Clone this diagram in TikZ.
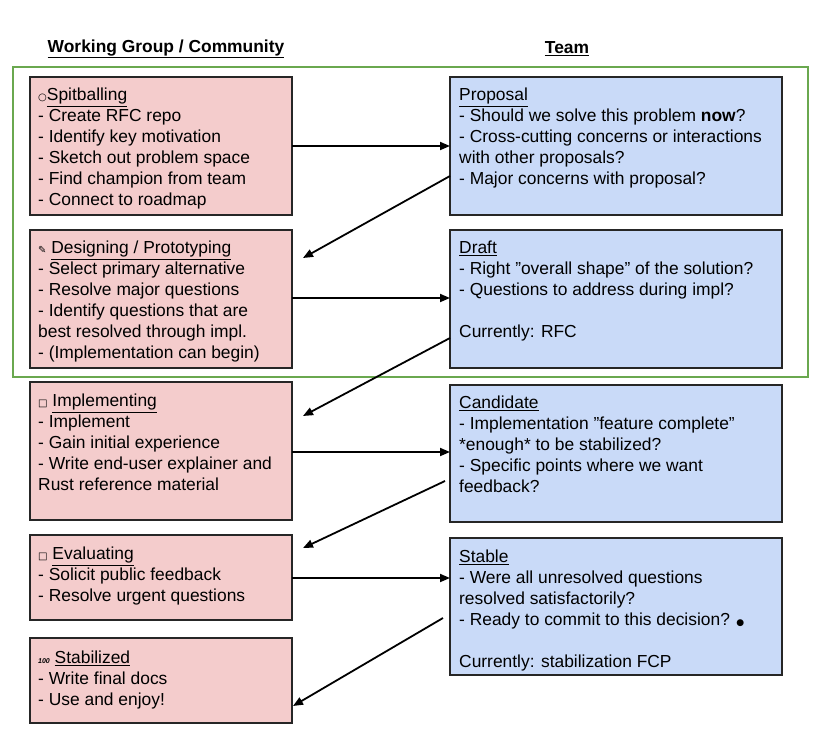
\documentclass[tikz,border=0pt]{standalone}
\usepackage{fontspec}
\setmainfont{Liberation Sans}
\newfontfamily\emj{DejaVu Sans}
\usetikzlibrary{arrows.meta}
\definecolor{pinkf}{HTML}{F4CCCC}
\definecolor{bluef}{HTML}{C9DAF8}
\definecolor{greenb}{HTML}{6AA84F}
\newcommand{\dq}{\symbol{34}}
\begin{document}
\begin{tikzpicture}[x=1pt,y=-1pt,
  box/.style={draw=black!85,line width=1.3pt},
  lbl/.style={anchor=north west,align=left,inner sep=0pt,font=\fontsize{17.4}{21}\selectfont},
  arr/.style={-{Triangle[length=10pt,width=8pt]},line width=1.8pt}]
\useasboundingbox (0,0) rectangle (820,745);
\fill[white] (0,0) rectangle (820,745);
\node[font=\bfseries\fontsize{17.4}{20}\selectfont] (h1) at (166,49) {\underline{Working Group / Community}};
\node[font=\bfseries\fontsize{17.4}{20}\selectfont] (h2) at (567,49) {\underline{Team}};
\draw[greenb,line width=2.8pt] (13,67) rectangle (808,377);
% left boxes
\draw[box,fill=pinkf] (30,77) rectangle (292,215);
\draw[box,fill=pinkf] (30,230) rectangle (292,368);
\draw[box,fill=pinkf] (30,382) rectangle (292,520);
\draw[box,fill=pinkf] (30,535) rectangle (292,620);
\draw[box,fill=pinkf] (30,638) rectangle (292,723);
% right boxes
\draw[box,fill=bluef] (450,77) rectangle (782,215);
\draw[box,fill=bluef] (450,230) rectangle (782,368);
\draw[box,fill=bluef] (450,385) rectangle (782,522);
\draw[box,fill=bluef] (450,538) rectangle (782,675);
% texts
\node[lbl] (t1) at (38,88) {{\emj\normalsize ○}\underline{Spitballing}\\- Create RFC repo\\- Identify key motivation\\- Sketch out problem space\\- Find champion from team\\- Connect to roadmap};
\node[lbl] (t2) at (38,241) {{\emj\normalsize ✎} \underline{Designing / Prototyping}\\- Select primary alternative\\- Resolve major questions\\- Identify questions that are\\best resolved through impl.\\- (Implementation can begin)};
\node[lbl] (t3) at (38,394) {{\emj\normalsize □} \underline{Implementing}\\- Implement\\- Gain initial experience\\- Write end-user explainer and\\Rust reference material};
\node[lbl] (t4) at (38,547) {{\emj\normalsize □} \underline{Evaluating}\\- Solicit public feedback\\- Resolve urgent questions};
\node[lbl] (t5) at (38,651) {{\scriptsize\bfseries\itshape 100} \underline{Stabilized}\\- Write final docs\\- Use and enjoy!};
\node[lbl] (r1) at (459,88) {\underline{Proposal}\\- Should we solve this problem \textbf{now}?\\- Cross-cutting concerns or interactions\\with other proposals?\\- Major concerns with proposal?};
\node[lbl] (r2) at (459,241) {\underline{Draft}\\- Right \dq overall shape\dq{} of the solution?\\- Questions to address during impl?\\[21pt]Currently: RFC};
\node[lbl] (r3) at (459,396) {\underline{Candidate}\\- Implementation \dq feature complete\dq\\*enough* to be stabilized?\\- Specific points where we want\\feedback?};
\node[lbl] (r4) at (459,550) {\underline{Stable}\\- Were all unresolved questions\\resolved satisfactorily?\\- Ready to commit to this decision? {\emj\small ●}\\[21pt]Currently: stabilization FCP};
% arrows
\coordinate (a1s) at (292,146); \coordinate (a1e) at (450,146);
\coordinate (a2s) at (292,298); \coordinate (a2e) at (450,298);
\coordinate (a3s) at (292,452); \coordinate (a3e) at (450,452);
\coordinate (a4s) at (292,578); \coordinate (a4e) at (450,578);
\coordinate (d1s) at (450,176); \coordinate (d1e) at (303,258);
\coordinate (d2s) at (450,338); \coordinate (d2e) at (303,416);
\coordinate (d3s) at (445,481); \coordinate (d3e) at (303,548);
\coordinate (d4s) at (443,618); \coordinate (d4e) at (293,706);
\foreach \p in {a1,a2,a3,a4,d1,d2,d3,d4} \draw[arr] (\p s) -- (\p e);
\end{tikzpicture}
\end{document}
